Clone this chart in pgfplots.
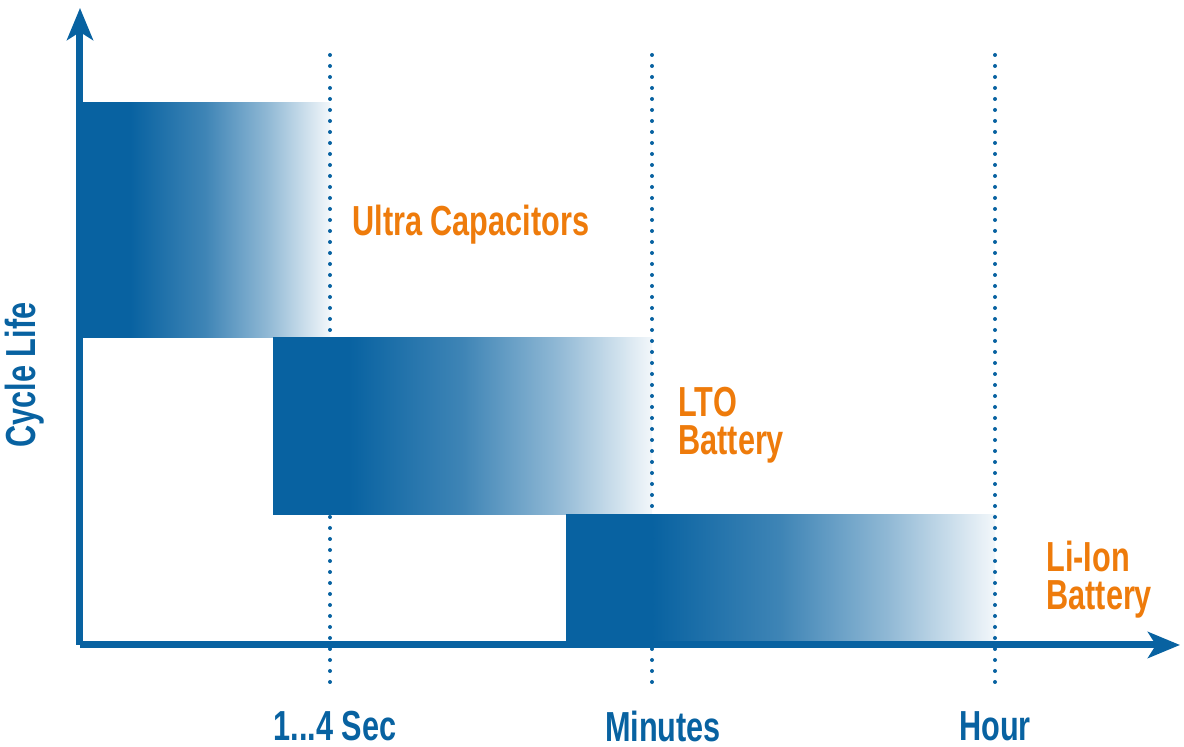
\documentclass[border=0pt]{standalone}
\usepackage{pgfplots}
\pgfplotsset{compat=1.18}
\usepackage{fontspec}
\setmainfont{Liberation Sans}[FakeStretch=0.73]
\usetikzlibrary{arrows.meta}

\definecolor{cblue}{HTML}{0862A1}
\definecolor{corange}{HTML}{EE7B0B}

% solid blue on the left, fading out to white on the right
\pgfdeclarehorizontalshading{barfade}{100bp}{%
  color(0bp)=(cblue); color(25bp)=(cblue); color(35bp)=(cblue);
  color(50bp)=(cblue!78); color(62.5bp)=(cblue!45);
  color(75bp)=(cblue!5); color(100bp)=(white)}

\newcommand{\secs}{1{.}{.}{.}4 Sec}

\begin{document}
\begin{tikzpicture}
\begin{axis}[
  x=0.5pt, y=0.5pt,
  xmin=0, xmax=1100,
  ymin=0, ymax=637,
  axis lines=left,
  axis on top,
  clip=false,
  axis line style={cblue, line width=3.5pt,
    -{Stealth[length=16pt, width=13pt, inset=4pt]}},
  ytick=\empty,
  xtick={255,583,915},
  xticklabels={{\secs}, {Minutes}, {Hour}},
  major tick length=0pt,
  xticklabel style={anchor=center, yshift=-40.5pt, text=cblue,
    font=\fontsize{21}{24}\selectfont\bfseries},
  ylabel={Cycle Life},
  every axis y label/.style={at={(axis cs:-55,270)}, rotate=90,
    anchor=center, text=cblue, font=\fontsize{21}{24}\selectfont\bfseries},
]

% bars
\addplot[draw=none, shading=barfade] coordinates {(0,307) (250,307) (250,542) (0,542)};
\addplot[draw=none, shading=barfade] coordinates {(193,130) (572,130) (572,307) (193,307)};
\addplot[draw=none, shading=barfade] coordinates {(486,0) (915,0) (915,130) (486,130)};

% dotted guide lines
\addplot[cblue, line width=2pt, line cap=round, dash pattern=on 0pt off 5.5pt]
  coordinates {(250,590) (250,-45)};
\addplot[cblue, line width=2pt, line cap=round, dash pattern=on 0pt off 5.5pt]
  coordinates {(572,590) (572,-45)};
\addplot[cblue, line width=2pt, line cap=round, dash pattern=on 0pt off 5.5pt]
  coordinates {(915,590) (915,-45)};

\begin{scope}[every node/.style={text=corange, anchor=west, align=left,
    font=\fontsize{21}{19}\selectfont\bfseries, inner sep=0pt}]
\node at (axis cs:272,420) {Ultra Capacitors};
\node at (axis cs:598,220) {LTO\\Battery};
\node at (axis cs:966,65) {Li-Ion\\Battery};
\end{scope}

\coordinate (bl) at (axis cs:-80,-102);
\coordinate (tr) at (axis cs:1104,645);
\end{axis}
\pgfresetboundingbox
\path[use as bounding box] (bl) rectangle (tr);
\end{tikzpicture}
\end{document}
